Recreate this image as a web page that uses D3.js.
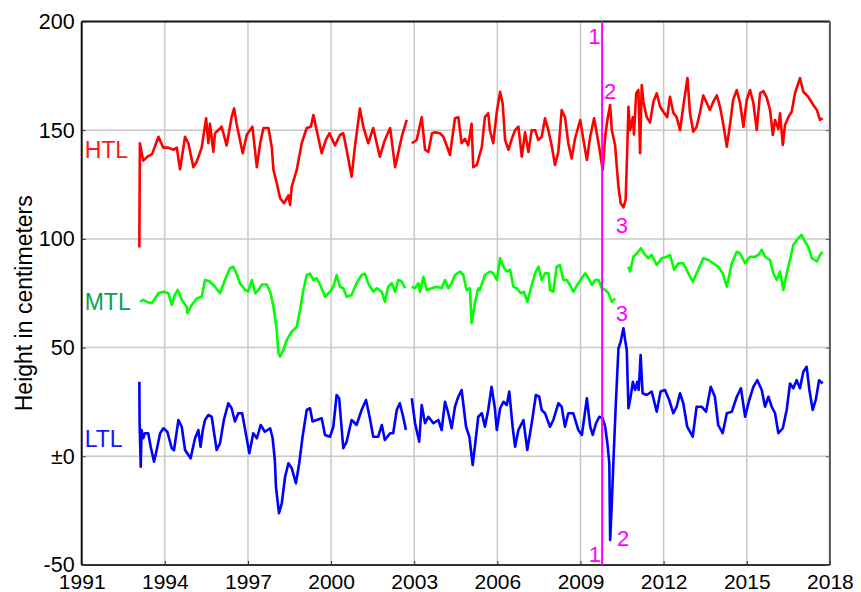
<!DOCTYPE html>
<html>
<head>
<meta charset="utf-8">
<script src="https://cdn.jsdelivr.net/npm/d3@7"></script>
<style>
  body { margin: 0; background: #fff; }
  svg { display: block; font-family: "Liberation Sans", Arial, sans-serif; }
</style>
</head>
<body>
<svg id="chart" width="861" height="592"></svg>
<script>
// tide levels, cm ([year, value], null = gap)
var htl = [
    [1993.08, 96], [1993.09, 121], [1993.10, 144], [1993.22, 136], [1993.39, 138], [1993.54, 139],
    [1993.77, 147], [1993.94, 142], [1994.12, 142], [1994.31, 141], [1994.43, 142], [1994.55, 132],
    [1994.73, 147], [1994.85, 144], [1995.03, 133], [1995.15, 135.5], [1995.33, 142], [1995.49, 155.5],
    [1995.57, 144], [1995.63, 153], [1995.75, 140], [1995.81, 148.5], [1996.05, 151.6], [1996.23, 143],
    [1996.41, 156], [1996.50, 160], [1996.59, 153], [1996.81, 139.4], [1996.96, 148], [1997.16, 151.6],
    [1997.32, 133], [1997.44, 144], [1997.56, 151], [1997.74, 151], [1997.86, 142], [1997.92, 131.7],
    [1998.04, 125.6], [1998.16, 118.7], [1998.30, 116.4], [1998.46, 120], [1998.52, 115.6], [1998.58, 124],
    [1998.76, 131.7], [1998.94, 144], [1999.12, 151], [1999.27, 151.6], [1999.36, 157], [1999.48, 150],
    [1999.66, 139.4], [1999.81, 145.5], [1999.94, 148.6], [2000.14, 143], [2000.32, 147.8], [2000.44, 148.6],
    [2000.56, 141], [2000.74, 128.6], [2000.86, 142.4], [2001.04, 160], [2001.16, 151.6], [2001.34, 144],
    [2001.52, 151], [2001.76, 137.8], [2001.94, 145.5], [2002.13, 151], [2002.31, 133], [2002.55, 147],
    [2002.73, 154.7], [2002.82, null], [2002.91, 144], [2003.09, 145.5], [2003.27, 156], [2003.39, 141],
    [2003.51, 140], [2003.64, 148.6], [2003.75, 149], [2003.93, 148.6], [2004.05, 147], [2004.17, 143],
    [2004.29, 138.6], [2004.47, 155.5], [2004.59, 156], [2004.71, 144], [2004.83, 146], [2004.95, 143],
    [2005.07, 153], [2005.13, 133], [2005.26, 134], [2005.44, 142.4], [2005.55, 156], [2005.67, 157.8],
    [2005.73, 150], [2005.85, 144], [2005.98, 158.5], [2006.10, 167.7], [2006.19, 162.4], [2006.28, 145.5],
    [2006.40, 141], [2006.52, 146], [2006.64, 150], [2006.76, 151.6], [2006.88, 137.8], [2007.00, 149],
    [2007.12, 140], [2007.24, 150], [2007.36, 150], [2007.48, 145.5], [2007.60, 147], [2007.72, 155.5],
    [2007.84, 150], [2007.96, 143], [2008.08, 134], [2008.20, 140], [2008.32, 159.3], [2008.44, 156],
    [2008.56, 144], [2008.68, 137], [2008.80, 146], [2008.99, 154.7], [2009.10, 146], [2009.23, 136.3],
    [2009.35, 147], [2009.49, 155.5], [2009.61, 147], [2009.71, 139.4], [2009.80, 131.7], [2009.89, 147],
    [2009.97, 154.7], [2010.07, 161.6], [2010.13, 150], [2010.25, 143], [2010.31, 133], [2010.37, 124],
    [2010.45, 116.4], [2010.55, 114.5], [2010.63, 118], [2010.69, 142.4], [2010.73, 160.8], [2010.79, 150],
    [2010.89, 156], [2010.93, 148], [2011.01, 167], [2011.09, 168.5], [2011.15, 139.4], [2011.21, 170.8],
    [2011.27, 163], [2011.39, 156], [2011.51, 153.5], [2011.63, 163], [2011.75, 167], [2011.87, 161],
    [2011.99, 158.5], [2012.13, 156], [2012.23, 165.4], [2012.35, 158], [2012.47, 156], [2012.59, 150],
    [2012.71, 161], [2012.86, 174], [2012.95, 158], [2013.07, 149.3], [2013.19, 151.6], [2013.31, 158],
    [2013.43, 166], [2013.56, 162.4], [2013.67, 159.3], [2013.79, 163], [2013.92, 166], [2014.03, 161],
    [2014.15, 153], [2014.28, 142.4], [2014.40, 153], [2014.51, 164], [2014.64, 168.5], [2014.76, 162.4],
    [2014.88, 151.6], [2015.00, 164], [2015.12, 168.5], [2015.24, 162.4], [2015.36, 150], [2015.48, 167],
    [2015.60, 168], [2015.72, 165], [2015.84, 159.3], [2015.94, 147.8], [2016.02, 154.7], [2016.14, 150.5],
    [2016.20, 157.8], [2016.30, 143.2], [2016.38, 152.4], [2016.50, 156], [2016.62, 158.5], [2016.74, 167],
    [2016.86, 171.6], [2016.92, 174], [2017.04, 167.7], [2017.22, 165.4], [2017.40, 161.6], [2017.53, 159.3],
    [2017.64, 154.7], [2017.74, 155.5]
];

var mtl = [
    [1993.11, 71.1], [1993.22, 72], [1993.35, 71], [1993.53, 70.4], [1993.65, 72.6], [1993.77, 75],
    [1993.95, 75.7], [1994.13, 75], [1994.25, 69.6], [1994.37, 74.5], [1994.47, 76.5], [1994.61, 72],
    [1994.79, 68.8], [1994.81, 65.8], [1994.97, 69.6], [1995.15, 72.6], [1995.33, 73.4], [1995.45, 81.1],
    [1995.63, 80.4], [1995.81, 78], [1995.99, 75], [1996.17, 81.1], [1996.35, 86.5], [1996.47, 87.2],
    [1996.59, 84], [1996.71, 79.6], [1996.90, 76.5], [1997.01, 75.7], [1997.14, 81.1], [1997.26, 75],
    [1997.38, 76.5], [1997.50, 79], [1997.68, 79], [1997.80, 75.7], [1997.92, 68.8], [1998.04, 58.1],
    [1998.10, 47.4], [1998.16, 45.8], [1998.28, 49], [1998.40, 53.5], [1998.58, 57.3], [1998.76, 59.6],
    [1998.88, 67.3], [1999.00, 76.5], [1999.12, 83.4], [1999.24, 84], [1999.36, 81.1], [1999.48, 81.9],
    [1999.60, 79], [1999.78, 73.4], [1999.96, 75.7], [2000.08, 78], [2000.20, 83.4], [2000.32, 78],
    [2000.44, 77.3], [2000.56, 73.4], [2000.74, 74.2], [2000.92, 79.6], [2001.10, 83.4], [2001.22, 84],
    [2001.34, 79.6], [2001.52, 75.7], [2001.65, 77.3], [2001.83, 75.7], [2001.94, 71], [2002.06, 78],
    [2002.19, 79.6], [2002.31, 75.7], [2002.42, 81.1], [2002.55, 80.4], [2002.67, 77.3], [2002.80, null],
    [2002.91, 78], [2003.03, 77.3], [2003.15, 79.6], [2003.21, 75.7], [2003.33, 82.6], [2003.45, 76.5],
    [2003.63, 77.3], [2003.81, 78], [2003.99, 77.3], [2004.11, 81.1], [2004.23, 77.3], [2004.35, 79.6],
    [2004.47, 83.4], [2004.65, 85], [2004.77, 83.4], [2004.89, 76.5], [2005.01, 77.3], [2005.07, 61.2],
    [2005.19, 70.4], [2005.31, 77.3], [2005.37, 76.5], [2005.55, 83.4], [2005.73, 85], [2005.85, 84.2],
    [2005.98, 81.1], [2006.10, 91.1], [2006.22, 87.2], [2006.34, 85], [2006.46, 85.8], [2006.58, 78],
    [2006.70, 77.3], [2006.84, 75], [2006.96, 75.7], [2007.08, 71.1], [2007.21, 77.3], [2007.36, 84.2],
    [2007.48, 87.2], [2007.60, 81.1], [2007.72, 84.2], [2007.84, 84.2], [2007.90, 76.5], [2008.02, 75.7],
    [2008.14, 87.2], [2008.26, 88], [2008.38, 81.1], [2008.50, 81.1], [2008.62, 78.8], [2008.74, 75.7],
    [2008.92, 79.6], [2009.17, 84.2], [2009.29, 81.9], [2009.41, 78.8], [2009.53, 81.1], [2009.65, 81.1],
    [2009.77, 77.3], [2009.89, 76.5], [2010.01, 75], [2010.13, 71.1], [2010.25, 72.6], [2010.50, null],
    [2010.73, 87.2], [2010.79, 85], [2010.91, 91.8], [2011.03, 93.3], [2011.18, 95.7], [2011.29, 93.3],
    [2011.45, 91.1], [2011.57, 92.6], [2011.75, 88], [2011.93, 91.1], [2012.11, 91.8], [2012.23, 92.6],
    [2012.38, 85.8], [2012.53, 88.8], [2012.71, 88.8], [2012.89, 84.2], [2013.05, 80.3], [2013.25, 85.8],
    [2013.43, 91.1], [2013.61, 90.3], [2013.79, 88.8], [2013.97, 87.2], [2014.13, 84.2], [2014.28, 78],
    [2014.46, 88.8], [2014.64, 94.1], [2014.76, 93.3], [2014.94, 88.8], [2015.12, 91.8], [2015.30, 91.8],
    [2015.42, 92.6], [2015.54, 95], [2015.66, 91.8], [2015.84, 90.3], [2015.96, 84.2], [2016.08, 81.1],
    [2016.20, 85], [2016.32, 76.5], [2016.44, 84.2], [2016.56, 90.3], [2016.68, 97.2], [2016.86, 100.3],
    [2016.98, 101.8], [2017.10, 98.8], [2017.22, 96.4], [2017.35, 91.1], [2017.53, 89.6], [2017.64, 92.6],
    [2017.74, 94.1]
];

var ltl = [
    [1993.08, 34.3], [1993.09, 15.2], [1993.13, -4.8], [1993.16, 12.1], [1993.22, 8.3], [1993.28, 10.6],
    [1993.40, 10.6], [1993.49, 4.4], [1993.61, -2.5], [1993.68, 1.4], [1993.83, 10.6], [1993.95, 12.9],
    [1994.09, 11.3], [1994.25, 3.7], [1994.33, 2.8], [1994.49, 16.7], [1994.61, 13.6], [1994.73, 2.9],
    [1994.93, -0.9], [1995.09, 8.3], [1995.21, 12.1], [1995.29, 4.4], [1995.37, 12.1], [1995.45, 16.7],
    [1995.57, 19], [1995.69, 18.2], [1995.87, 2.9], [1995.99, 5.9], [1996.13, 16.7], [1996.29, 24.4],
    [1996.41, 22.1], [1996.53, 16], [1996.65, 19.8], [1996.79, 19.8], [1996.90, 12.1], [1997.05, 1.4],
    [1997.19, 10.6], [1997.32, 8.3], [1997.46, 14.4], [1997.61, 11.3], [1997.80, 12.9], [1997.89, 8.3],
    [1997.97, -1.7], [1998.01, -14], [1998.12, -26.2], [1998.22, -21.6], [1998.34, -9.4], [1998.46, -3.2],
    [1998.58, -5.5], [1998.73, -12.4], [1998.85, -3.2], [1998.97, 9], [1999.12, 21.3], [1999.24, 22.1],
    [1999.33, 16], [1999.48, 16.7], [1999.66, 17.5], [1999.78, 9.8], [1999.96, 9], [2000.08, 13.6],
    [2000.20, 28.2], [2000.29, 26.7], [2000.44, 3.7], [2000.56, 6.7], [2000.74, 16.7], [2000.92, 14.4],
    [2001.10, 21.3], [2001.26, 25.9], [2001.40, 17.5], [2001.52, 9], [2001.70, 9], [2001.83, 14.4],
    [2001.94, 7.5], [2002.13, 10.6], [2002.24, 10.6], [2002.37, 21.3], [2002.48, 24.4], [2002.60, 18.2],
    [2002.70, 12.1], [2002.80, null], [2002.91, 26.7], [2003.03, 15.2], [2003.18, 6.7], [2003.27, 23.6],
    [2003.39, 15.2], [2003.51, 18.2], [2003.69, 15.2], [2003.87, 16.7], [2003.99, 12.1], [2004.11, 25.1],
    [2004.23, 19.8], [2004.35, 12.9], [2004.47, 22.8], [2004.59, 27.4], [2004.71, 30.5], [2004.87, 13.6],
    [2004.99, 9], [2005.11, -4], [2005.23, 9], [2005.31, 18.2], [2005.44, 19.8], [2005.55, 13.6],
    [2005.67, 21.3], [2005.79, 32], [2005.91, 22.1], [2005.98, 12.1], [2006.10, 22.1], [2006.22, 25.1],
    [2006.34, 23.6], [2006.43, 29.8], [2006.55, 13.6], [2006.64, 4.4], [2006.76, 12.1], [2006.94, 16.7],
    [2007.08, 2.9], [2007.24, 15.2], [2007.39, 28.2], [2007.51, 27.4], [2007.60, 21.3], [2007.72, 19.8],
    [2007.90, 13.6], [2008.02, 16.7], [2008.20, 24.4], [2008.32, 22.8], [2008.44, 13.6], [2008.56, 19.8],
    [2008.74, 19.8], [2008.92, 12.1], [2009.05, 9.8], [2009.23, 26.7], [2009.35, 13.6], [2009.44, 9.8],
    [2009.56, 15.2], [2009.68, 18.2], [2009.80, 17.5], [2009.89, 13.6], [2009.97, 6], [2010.04, -3.2],
    [2010.07, -38.5], [2010.13, -21.6], [2010.19, -1.7], [2010.27, 22.8], [2010.37, 49.7], [2010.45, 52.7],
    [2010.55, 58.9], [2010.61, 53.5], [2010.67, 48.9], [2010.73, 22.1], [2010.81, 27.4], [2010.89, 34.3],
    [2010.97, 30.5], [2011.05, 34.3], [2011.10, 30.5], [2011.17, 46.6], [2011.24, 29], [2011.39, 28.2],
    [2011.57, 29.8], [2011.75, 20.5], [2011.89, 29.8], [2012.05, 30.5], [2012.20, 25.9], [2012.35, 19.8],
    [2012.47, 22.8], [2012.59, 29], [2012.71, 24.4], [2012.85, 13.6], [2013.05, 9], [2013.19, 22.8],
    [2013.37, 22.8], [2013.53, 20.5], [2013.70, 32], [2013.85, 27.4], [2013.97, 14.4], [2014.13, 10.6],
    [2014.28, 19.8], [2014.46, 20.5], [2014.64, 27.4], [2014.79, 31.3], [2014.94, 18.2], [2015.09, 25.9],
    [2015.24, 32], [2015.38, 35], [2015.54, 30.5], [2015.66, 22.8], [2015.78, 27.4], [2015.90, 22.8],
    [2016.02, 19.8], [2016.14, 10.6], [2016.30, 12.9], [2016.44, 21.3], [2016.56, 33.5], [2016.68, 31.3],
    [2016.80, 35], [2016.92, 31.3], [2017.04, 38.9], [2017.16, 41.2], [2017.26, 30.5], [2017.38, 21.3],
    [2017.49, 25.9], [2017.61, 35], [2017.74, 33.5]
];

var xTicks = [1991, 1994, 1997, 2000, 2003, 2006, 2009, 2012, 2015, 2018];
var yTicks = [-50, 0, 50, 100, 150, 200];
var yTickLabels = ['-50', '\u00b10', '50', '100', '150', '200'];
var eventYear = 2009.78;

(function () {
    var svg = d3.select('#chart');
    var pLeft = 81.7, pRight = 829.9, pTop = 21.5, pBottom = 565;

    var x = d3.scaleLinear().domain([1991, 2018]).range([pLeft, pRight]);
    var y = d3.scaleLinear().domain([-50, 200]).range([pBottom, pTop]);

    // grid
    svg.selectAll('.vgrid')
        .data(xTicks.slice(1, -1))
        .enter()
        .append('line')
        .attr('x1', x).attr('x2', x)
        .attr('y1', pTop).attr('y2', pBottom)
        .style('stroke', '#c8c8c8')
        .style('stroke-width', 1.5);
    svg.selectAll('.hgrid')
        .data(yTicks.slice(1, -1))
        .enter()
        .append('line')
        .attr('x1', pLeft).attr('x2', pRight)
        .attr('y1', y).attr('y2', y)
        .style('stroke', '#c8c8c8')
        .style('stroke-width', 1.5);

    // frame
    svg.append('line').attr('x1', pLeft).attr('x2', pRight).attr('y1', pTop).attr('y2', pTop)
        .style('stroke', '#111').style('stroke-width', 2);
    svg.append('line').attr('x1', pLeft).attr('x2', pLeft).attr('y1', pTop).attr('y2', pBottom)
        .style('stroke', '#111').style('stroke-width', 2);
    svg.append('line').attr('x1', pLeft).attr('x2', pRight).attr('y1', pBottom).attr('y2', pBottom)
        .style('stroke', '#333').style('stroke-width', 2);
    svg.append('line').attr('x1', pRight).attr('x2', pRight).attr('y1', pTop).attr('y2', pBottom)
        .style('stroke', '#555').style('stroke-width', 2);

    // axes (labels + small inward ticks)
    var xAxis = d3.axisBottom(x).tickValues(xTicks).tickFormat(d3.format('d')).tickSize(-4).tickPadding(9);
    var gx = svg.append('g').attr('transform', 'translate(0,' + pBottom + ')').call(xAxis);
    gx.select('.domain').remove();
    gx.selectAll('text').style('font-size', '21px').style('fill', '#000')
        .attr('font-family', 'Liberation Sans, Arial, sans-serif');
    gx.selectAll('line').style('stroke', '#333');

    var yAxis = d3.axisLeft(y).tickValues(yTicks)
        .tickFormat(function (d, i) { return yTickLabels[i]; })
        .tickSize(-4).tickPadding(7);
    var gy = svg.append('g').attr('transform', 'translate(' + pLeft + ',0)').call(yAxis);
    gy.select('.domain').remove();
    gy.selectAll('text').style('font-size', '21.5px').style('fill', '#000')
        .attr('font-family', 'Liberation Sans, Arial, sans-serif');
    gy.selectAll('line').style('stroke', '#333');

    var gyr = svg.append('g').attr('transform', 'translate(' + pRight + ',0)')
        .call(d3.axisRight(y).tickValues(yTicks).tickSize(-4).tickFormat(''));
    gyr.select('.domain').remove();
    gyr.selectAll('line').style('stroke', '#555');

    svg.append('text')
        .attr('transform', 'translate(32,' + ((pTop + pBottom) / 2 + 10) + ') rotate(-90)')
        .attr('text-anchor', 'middle')
        .style('font-size', '23px')
        .text('Height in centimeters');

    // series
    var line = d3.line()
        .defined(function (d) { return d[1] !== null; })
        .x(function (d) { return x(d[0]); })
        .y(function (d) { return y(d[1]); });

    var series = [
        {data: htl, color: '#ff0000'},
        {data: mtl, color: '#00ff00'},
        {data: ltl, color: '#0000ff'}
    ];
    series.forEach(function (s) {
        svg.append('path')
            .datum(s.data)
            .attr('d', line)
            .style('fill', 'none')
            .style('stroke', s.color)
            .style('stroke-width', 2.6)
            .style('stroke-linejoin', 'round');
    });

    // series names
    var names = [
        {t: 'HTL', v: 137.2, c: '#ff1a1a'},
        {t: 'MTL', v: 67.3, c: '#00a550'},
        {t: 'LTL', v: 4.3, c: '#1414ff'}
    ];
    svg.selectAll('.name')
        .data(names)
        .enter()
        .append('text')
        .attr('x', pLeft + 3)
        .attr('y', function (d) { return y(d.v); })
        .style('font-size', '23px')
        .style('fill', function (d) { return d.c; })
        .text(function (d) { return d.t; });

    // event marker
    svg.append('line')
        .attr('x1', x(eventYear)).attr('x2', x(eventYear))
        .attr('y1', pTop).attr('y2', pBottom)
        .style('stroke', '#ff00ff')
        .style('stroke-width', 2);

    var marks = [
        {t: '1', yr: 2009.28, v: 189.7},
        {t: '2', yr: 2009.85, v: 164.3},
        {t: '3', yr: 2010.27, v: 102.7},
        {t: '3', yr: 2010.27, v: 62.2},
        {t: '2', yr: 2010.32, v: -41.3},
        {t: '1', yr: 2009.30, v: -48.5}
    ];
    svg.selectAll('.mark')
        .data(marks)
        .enter()
        .append('text')
        .attr('x', function (d) { return x(d.yr); })
        .attr('y', function (d) { return y(d.v); })
        .style('font-size', '22px')
        .style('fill', '#ff00ff')
        .text(function (d) { return d.t; });
})();
</script>
</body>
</html>
